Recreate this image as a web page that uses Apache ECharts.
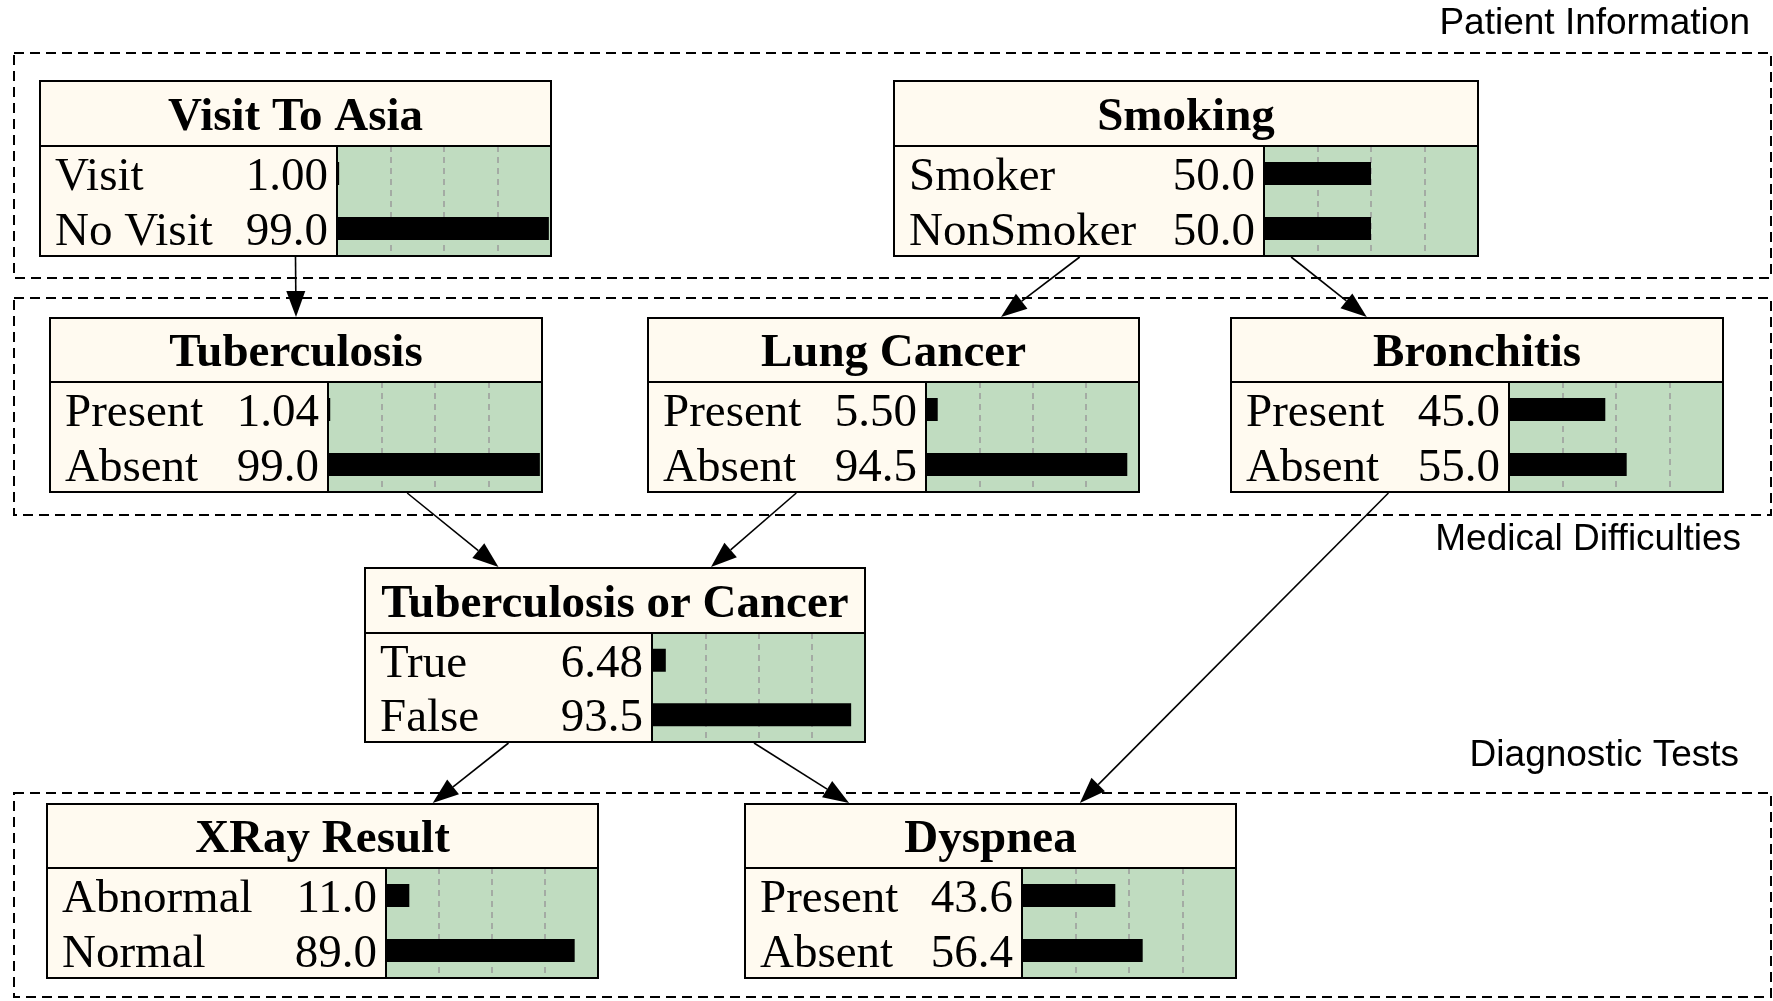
<!DOCTYPE html>
<html>
<head>
<meta charset="utf-8">
<script src="https://cdn.jsdelivr.net/npm/echarts@6/dist/echarts.min.js"></script>
<style>
  html, body { margin: 0; padding: 0; background: #fff; }
  #chart { width: 1773px; height: 1001px; }
</style>
</head>
<body>
<div id="chart"></div>
<script>
// ---- data ----
const nodeNames = ["Visit To Asia", "Smoking", "Tuberculosis", "Lung Cancer", "Bronchitis",
  "Tuberculosis or Cancer", "XRay Result", "Dyspnea"];
const stateNames = [
  ["Visit", "No Visit"],
  ["Smoker", "NonSmoker"],
  ["Present", "Absent"],
  ["Present", "Absent"],
  ["Present", "Absent"],
  ["True", "False"],
  ["Abnormal", "Normal"],
  ["Present", "Absent"]
];
const beliefs = [
  [1.00, 99.0],
  [50.0, 50.0],
  [1.04, 99.0],
  [5.50, 94.5],
  [45.0, 55.0],
  [6.48, 93.5],
  [11.0, 89.0],
  [43.6, 56.4]
];
const edgeFrom = ["Visit To Asia", "Smoking", "Smoking", "Tuberculosis", "Lung Cancer",
  "Bronchitis", "Tuberculosis or Cancer", "Tuberculosis or Cancer"];
const edgeTo = ["Tuberculosis", "Lung Cancer", "Bronchitis", "Tuberculosis or Cancer",
  "Tuberculosis or Cancer", "Dyspnea", "XRay Result", "Dyspnea"];
const groupNames = ["Patient Information", "Medical Difficulties", "Diagnostic Tests"];

// ---- layout (pixels) ----
// x0, y0, x1, y1, header bottom, split between labels and bars
const nodeBoxes = [
  [40, 81, 551, 256, 146, 337],
  [894, 81, 1478, 256, 146, 1264],
  [50, 318, 542, 492, 382, 328],
  [648, 318, 1139, 492, 382, 926],
  [1231, 318, 1723, 492, 382, 1509],
  [365, 568, 865, 742, 633, 652],
  [47, 804, 598, 978, 868, 386],
  [745, 804, 1236, 978, 868, 1022]
];
// where each edge leaves / enters its box, as a fraction of box width
const edgeAnchors = [[0.5, 0.5], [0.318, 0.719], [0.68, 0.276], [0.726, 0.267],
  [0.302, 0.692], [0.32, 0.682], [0.287, 0.70], [0.778, 0.212]];
const groupBoxes = [[14, 53, 1771, 278], [14, 298, 1771, 515], [14, 793, 1771, 997]];
const groupLabelPos = [[1750, 24], [1741, 540], [1739, 756]];

const serif = "'Liberation Serif', 'Times New Roman', serif";
const cream = "#fffaf0";
const green = "#c0dcc0";

function fmt(v) {
  return v >= 10 ? v.toFixed(1) : v.toFixed(2);
}

const chart = echarts.init(document.getElementById("chart"));

const grids = [];
const xAxes = [];
const yAxes = [];
const series = [];
const graphics = [];

// group boxes
groupBoxes.forEach((b, i) => {
  graphics.push({
    type: "rect",
    shape: { x: b[0], y: b[1], width: b[2] - b[0], height: b[3] - b[1] },
    style: { fill: null, stroke: "#000", lineWidth: 2, lineDash: [10, 6] },
    z: 1
  });
  graphics.push({
    type: "text",
    x: groupLabelPos[i][0],
    y: groupLabelPos[i][1],
    style: {
      text: groupNames[i], fill: "#000", align: "right", verticalAlign: "middle",
      font: "37px 'Liberation Sans', Arial, sans-serif"
    },
    z: 50
  });
});

nodeNames.forEach((name, i) => {
  const [x0, y0, x1, y1, hb, sp] = nodeBoxes[i];
  const labelW = sp - x0 - 24;
  const valueW = 100;

  grids.push({
    left: sp, top: hb, width: x1 - sp, height: y1 - hb,
    show: true, backgroundColor: green, borderWidth: 0
  });
  xAxes.push({
    gridIndex: i, type: "value", min: 0, max: 100, interval: 25,
    axisLine: { show: false }, axisTick: { show: false }, axisLabel: { show: false },
    splitLine: {
      show: true, showMinLine: false, showMaxLine: false,
      lineStyle: { color: "#9a9a9a", type: [6, 5], width: 1.5 }
    }
  });
  yAxes.push({
    gridIndex: i, type: "category", data: stateNames[i], inverse: true,
    axisLine: { show: false }, axisTick: { show: false }, splitLine: { show: false },
    axisLabel: {
      interval: 0, margin: 9,
      formatter: (v, idx) => `{n|${v}}{v|${fmt(beliefs[i][idx])}}`,
      rich: {
        n: { width: labelW - valueW, align: "left", fontFamily: serif, fontSize: 47,
          color: "#000", padding: [8, 0, 0, 0] },
        v: { width: valueW, align: "right", fontFamily: serif, fontSize: 47,
          color: "#000", padding: [8, 0, 0, 0] }
      }
    }
  });
  series.push({
    type: "bar", xAxisIndex: i, yAxisIndex: i, data: beliefs[i],
    barWidth: 23, itemStyle: { color: "#000" }, silent: true
  });

  // cream background of header and label column
  graphics.push({
    type: "rect",
    shape: { x: x0, y: y0, width: x1 - x0, height: hb - y0 },
    style: { fill: cream }, z: -5
  });
  graphics.push({
    type: "rect",
    shape: { x: x0, y: hb, width: sp - x0, height: y1 - hb },
    style: { fill: cream }, z: -5
  });
  // borders
  graphics.push({
    type: "rect",
    shape: { x: x0, y: y0, width: x1 - x0, height: y1 - y0 },
    style: { fill: null, stroke: "#000", lineWidth: 2 }, z: 60
  });
  graphics.push({
    type: "line", shape: { x1: x0, y1: hb, x2: x1, y2: hb },
    style: { stroke: "#000", lineWidth: 2 }, z: 60
  });
  graphics.push({
    type: "line", shape: { x1: sp, y1: hb, x2: sp, y2: y1 },
    style: { stroke: "#000", lineWidth: 2 }, z: 60
  });
  // title
  graphics.push({
    type: "text", x: (x0 + x1) / 2, y: (y0 + hb) / 2 + 4,
    style: {
      text: name, fill: "#000", align: "center", verticalAlign: "middle",
      font: "bold 47px " + serif
    },
    z: 60
  });
});

// arrows between nodes
const arrowLen = 26;
const arrowW = 19;
edgeFrom.forEach((f, k) => {
  const a = nodeBoxes[nodeNames.indexOf(f)];
  const b = nodeBoxes[nodeNames.indexOf(edgeTo[k])];
  const sx = a[0] + edgeAnchors[k][0] * (a[2] - a[0]);
  const sy = a[3] + 1;
  const ex = b[0] + edgeAnchors[k][1] * (b[2] - b[0]);
  const ey = b[1] - 1;
  const len = Math.hypot(ex - sx, ey - sy);
  const dx = (ex - sx) / len;
  const dy = (ey - sy) / len;
  const bx = ex - dx * arrowLen;
  const by = ey - dy * arrowLen;
  graphics.push({
    type: "line", shape: { x1: sx, y1: sy, x2: bx, y2: by },
    style: { stroke: "#000", lineWidth: 1.6 }, z: 40
  });
  graphics.push({
    type: "polygon",
    shape: {
      points: [
        [ex, ey],
        [bx - dy * arrowW / 2, by + dx * arrowW / 2],
        [bx + dy * arrowW / 2, by - dx * arrowW / 2]
      ]
    },
    style: { fill: "#000" }, z: 40
  });
});

chart.setOption({
  animation: false,
  backgroundColor: "#fff",
  grid: grids,
  xAxis: xAxes,
  yAxis: yAxes,
  series: series,
  graphic: { elements: graphics }
});
</script>
</body>
</html>
